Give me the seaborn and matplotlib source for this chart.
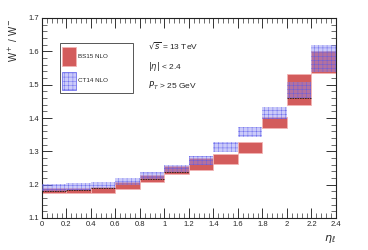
import numpy as np
import matplotlib
matplotlib.use("Agg")
import matplotlib.pyplot as plt
import seaborn as sns
from matplotlib.ticker import MultipleLocator
from matplotlib.patches import Rectangle

# bins in eta
eta_lo = [0.0, 0.2, 0.4, 0.6, 0.8, 1.0, 1.2, 1.4, 1.6, 1.8, 2.0, 2.2]

# BS15 NLO band (low, high)
bs15_lo = [1.174, 1.176, 1.174, 1.186, 1.209, 1.231, 1.244, 1.262, 1.296, 1.369, 1.439, 1.534]
bs15_hi = [1.190, 1.190, 1.194, 1.209, 1.229, 1.256, 1.279, 1.291, 1.327, 1.404, 1.531, 1.600]

# CT14 NLO band (low, high)
ct14_lo = [1.180, 1.183, 1.189, 1.199, 1.217, 1.237, 1.259, 1.299, 1.344, 1.398, 1.459, 1.538]
ct14_hi = [1.201, 1.204, 1.207, 1.221, 1.239, 1.259, 1.287, 1.328, 1.372, 1.434, 1.509, 1.620]

# bins where the dark lower edge of the CT14 band shows
dark_edge = [True, True, True, False, True, True, False, False, False, False, True, False]

sns.set_style("ticks")
plt.rcParams['font.family'] = ['Liberation Sans', 'DejaVu Sans']
plt.rcParams['hatch.linewidth'] = 0.35
plt.rcParams['mathtext.fontset'] = 'dejavusans'

fig = plt.figure(figsize=(3.68, 2.5), dpi=100)
ax = fig.add_axes([0.114, 0.128, 0.799, 0.8])

w = 0.2
red = '#d35c5c'
blue_fill = (0.55, 0.55, 0.95, 0.45)
blue_hatch = (0.35, 0.35, 0.92, 0.8)
ax.bar(eta_lo, np.array(bs15_hi) - np.array(bs15_lo), bottom=bs15_lo, width=w,
       align='edge', color=red, edgecolor='#f2b4b4', linewidth=0.6, zorder=2)
ax.bar(eta_lo, np.array(ct14_hi) - np.array(ct14_lo), bottom=ct14_lo, width=w,
       align='edge', facecolor=blue_fill, edgecolor=blue_hatch,
       hatch='++++', linewidth=0, zorder=3)
for x0, y0, d in zip(eta_lo, ct14_lo, dark_edge):
    if d:
        ax.plot([x0, x0 + w], [y0, y0], color='#202020', lw=0.6, ls=(0, (2, 1)), zorder=4)

ax.set_xlim(0, 2.4)
ax.set_ylim(1.1, 1.7)
ax.xaxis.set_minor_locator(MultipleLocator(0.04))
ax.yaxis.set_major_locator(MultipleLocator(0.1))
ax.yaxis.set_minor_locator(MultipleLocator(0.02))
ax.set_xticks(np.arange(0, 2.41, 0.2))
ax.set_xticklabels(['0', '0.2', '0.4', '0.6', '0.8', '1', '1.2', '1.4', '1.6', '1.8', '2', '2.2', '2.4'])
ax.tick_params(which='both', direction='in', top=True, right=True, labelsize=5.5,
               color='#333333', pad=2)
ax.tick_params(which='major', length=7, width=0.7)
ax.tick_params(which='minor', length=3.5, width=0.5)
for s in ax.spines.values():
    s.set_linewidth(0.8)
    s.set_color('#222222')

ax.set_ylabel(r'W$^+$ / W$^-$', fontsize=7, loc='top', labelpad=6)
ax.set_xlabel(r'$\eta_\ell$', fontsize=8, loc='right', labelpad=4)

# legend box drawn by hand to match the wide frame
tr = ax.transAxes
ax.add_patch(Rectangle((0.061, 0.624), 0.249, 0.25, transform=tr, facecolor='white',
                       edgecolor='#555555', lw=0.7, zorder=5))
ax.add_patch(Rectangle((0.068, 0.762), 0.048, 0.095, transform=tr, facecolor=red,
                       edgecolor='#f2b4b4', lw=0.6, zorder=6))
ax.add_patch(Rectangle((0.068, 0.64), 0.048, 0.09, transform=tr, facecolor=blue_fill,
                       edgecolor=blue_hatch, hatch='++++', lw=0.6, zorder=6))
ax.text(0.124, 0.81, 'BS15 NLO', transform=tr, fontsize=4.5, va='center', zorder=7)
ax.text(0.124, 0.685, 'CT14 NLO', transform=tr, fontsize=4.5, va='center', zorder=7)

ax.text(0.36, 0.84, r'$\sqrt{s}$ = 13 TeV', transform=tr, fontsize=6)
ax.text(0.36, 0.745, r'$|\eta|$ < 2.4', transform=tr, fontsize=6)
ax.text(0.36, 0.65, r'$P_T$ > 25 GeV', transform=tr, fontsize=6)

fig.savefig('out.png', dpi=100)
